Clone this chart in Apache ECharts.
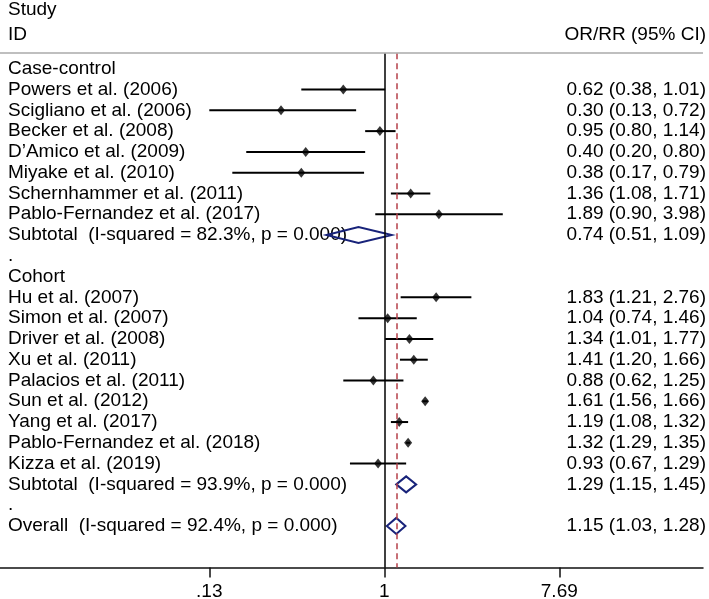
<!DOCTYPE html>
<html>
<head>
<meta charset="utf-8">
<script src="https://cdn.jsdelivr.net/npm/echarts@6/dist/echarts.min.js"></script>
<style>html,body{margin:0;padding:0;background:#fff}#c{width:709px;height:599px}</style>
</head>
<body>
<div id="c"></div>
<script>
// Row labels (top to bottom)
const rowLabels = [
  'Case-control',
  'Powers et al. (2006)',
  'Scigliano et al. (2006)',
  'Becker et al. (2008)',
  'D\u2019Amico et al. (2009)',
  'Miyake et al. (2010)',
  'Schernhammer et al. (2011)',
  'Pablo-Fernandez et al. (2017)',
  'Subtotal  (I-squared = 82.3%, p = 0.000)',
  '.',
  'Cohort',
  'Hu et al. (2007)',
  'Simon et al. (2007)',
  'Driver et al. (2008)',
  'Xu et al. (2011)',
  'Palacios et al. (2011)',
  'Sun et al. (2012)',
  'Yang et al. (2017)',
  'Pablo-Fernandez et al. (2018)',
  'Kizza et al. (2019)',
  'Subtotal  (I-squared = 93.9%, p = 0.000)',
  '.',
  'Overall  (I-squared = 92.4%, p = 0.000)'
];
// Individual studies: row index, estimate, lower, upper
const studyRows = [1, 2, 3, 4, 5, 6, 7, 11, 12, 13, 14, 15, 16, 17, 18, 19];
const studyOR   = [0.62, 0.30, 0.95, 0.40, 0.38, 1.36, 1.89, 1.83, 1.04, 1.34, 1.41, 0.88, 1.61, 1.19, 1.32, 0.93];
const studyLo   = [0.38, 0.13, 0.80, 0.20, 0.17, 1.08, 0.90, 1.21, 0.74, 1.01, 1.20, 0.62, 1.56, 1.08, 1.29, 0.67];
const studyHi   = [1.01, 0.72, 1.14, 0.80, 0.79, 1.71, 3.98, 2.76, 1.46, 1.77, 1.66, 1.25, 1.66, 1.32, 1.35, 1.29];
// Pooled estimates
const poolRows = [8, 20, 22];
const poolOR   = [0.74, 1.29, 1.15];
const poolLo   = [0.51, 1.15, 1.03];
const poolHi   = [1.09, 1.45, 1.28];
const overallOR = 1.15;
// x axis ticks
const tickValues = [0.13, 1, 7.69];
const tickLabels = ['.13', '1', '7.69'];

const fmt = v => v.toFixed(2);
const rightLabels = {};
studyRows.forEach((r, i) => rightLabels[r] = `${fmt(studyOR[i])} (${fmt(studyLo[i])}, ${fmt(studyHi[i])})`);
poolRows.forEach((r, i) => rightLabels[r] = `${fmt(poolOR[i])} (${fmt(poolLo[i])}, ${fmt(poolHi[i])})`);

const FONT = 'Liberation Sans, Arial, sans-serif';
const FS = 19;
const X_MIN = 0.01133, X_MAX = 41.08;
const Y_TOPLINE = -0.75, Y_MAX = 24;

const chart = echarts.init(document.getElementById('c'), null, {renderer: 'canvas'});
chart.setOption({
  animation: false,
  backgroundColor: '#fff',
  textStyle: {fontFamily: FONT},
  title: [
    {text: 'Study\nID', left: 8, top: -3, padding: 0,
     textStyle: {fontFamily: FONT, fontSize: FS, fontWeight: 'normal', color: '#000', lineHeight: 25}},
    {text: 'OR/RR (95% CI)', right: 3, top: 22, padding: 0,
     textStyle: {fontFamily: FONT, fontSize: FS, fontWeight: 'normal', color: '#000', lineHeight: 25}}
  ],
  grid: {left: 0, right: 6, top: 48, bottom: 31.5, containLabel: false, outerBoundsMode: 'none'},
  xAxis: {
    type: 'log', min: X_MIN, max: X_MAX, position: 'bottom',
    axisLine: {show: true, onZero: false, lineStyle: {color: '#111', width: 1.5}},
    axisTick: {show: true, length: 10, customValues: tickValues, lineStyle: {color: '#111', width: 1.5}},
    axisLabel: {show: true, customValues: tickValues, margin: 15, fontFamily: FONT, fontSize: FS, color: '#000',
      formatter: v => { const i = tickValues.findIndex(t => Math.abs(t - v) < 1e-6); return i >= 0 ? tickLabels[i] : ''; }},
    splitLine: {show: false}, minorTick: {show: false}
  },
  yAxis: [
    {type: 'value', min: -1, max: Y_MAX, interval: 1, inverse: true, position: 'left',
     axisLine: {show: false, onZero: false}, axisTick: {show: false}, splitLine: {show: false},
     axisLabel: {inside: true, margin: 8, fontFamily: FONT, fontSize: FS, color: '#000',
       formatter: v => rowLabels[v] || ''}},
    {type: 'value', min: -1, max: Y_MAX, interval: 1, inverse: true, position: 'right', offset: 3,
     axisLine: {show: false, onZero: false}, axisTick: {show: false}, splitLine: {show: false},
     axisLabel: {inside: true, margin: 0, fontFamily: FONT, fontSize: FS, color: '#000',
       formatter: v => rightLabels[v] || ''}}
  ],
  series: [
    {
      type: 'custom', name: 'ci', silent: true,
      encode: {x: [0, 1], y: 2},
      data: studyRows.map((r, i) => [studyLo[i], studyHi[i], r]),
      renderItem: (params, api) => {
        const a = api.coord([api.value(0), api.value(2)]);
        const b = api.coord([api.value(1), api.value(2)]);
        return {type: 'line', shape: {x1: a[0], y1: a[1], x2: b[0], y2: b[1]},
                style: {stroke: '#000', lineWidth: 2}};
      },
      markLine: {
        silent: true, symbol: 'none', label: {show: false}, animation: false,
        data: [
          [{coord: [1, Y_TOPLINE], lineStyle: {color: '#000', width: 1.5, type: 'solid'}}, {coord: [1, Y_MAX]}],
          [{coord: [overallOR, Y_TOPLINE], lineStyle: {color: '#b5404a', width: 1.5, type: [6, 4]}}, {coord: [overallOR, Y_MAX]}],
          [{coord: [X_MIN, Y_TOPLINE], lineStyle: {color: '#aaaaaa', width: 1.5, type: 'solid'}}, {coord: [X_MAX, Y_TOPLINE]}]
        ]
      }
    },
    {
      type: 'scatter', name: 'est', silent: true,
      symbol: 'diamond', symbolSize: [8, 10],
      itemStyle: {color: '#000'},
      data: studyRows.map((r, i) => [studyOR[i], r]),
      z: 3
    },
    {
      type: 'custom', name: 'pooled', silent: true,
      encode: {x: [0, 1, 2], y: 3},
      data: poolRows.map((r, i) => [poolOR[i], poolLo[i], poolHi[i], r]),
      renderItem: (params, api) => {
        const c = api.coord([api.value(0), api.value(3)]);
        const l = api.coord([api.value(1), api.value(3)]);
        const h = api.coord([api.value(2), api.value(3)]);
        const hh = 8;
        return {type: 'polygon', shape: {points: [[l[0], l[1]], [c[0], c[1] - hh], [h[0], h[1]], [c[0], c[1] + hh]]},
                style: {fill: 'none', stroke: '#18237a', lineWidth: 2}};
      },
      z: 4
    }
  ]
});
</script>
</body>
</html>
